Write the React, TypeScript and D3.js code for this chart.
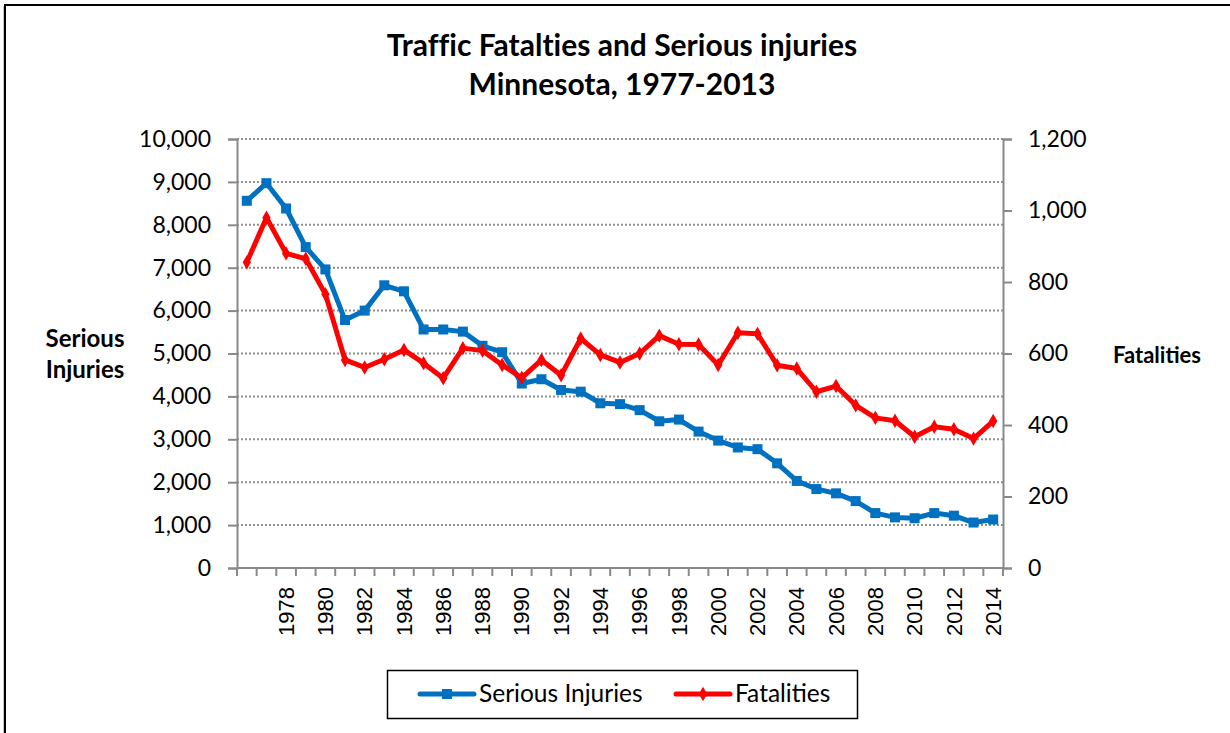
import React, { useEffect, useRef } from "react";
import * as d3 from "d3";

// categories: 1976 .. 2014 (first category carries no label in the original)
const years: number[] = [
  1976, 1977, 1978, 1979, 1980, 1981, 1982, 1983, 1984, 1985,
  1986, 1987, 1988, 1989, 1990, 1991, 1992, 1993, 1994, 1995,
  1996, 1997, 1998, 1999, 2000, 2001, 2002, 2003, 2004, 2005,
  2006, 2007, 2008, 2009, 2010, 2011, 2012, 2013, 2014,
];
const xTickLabels: string[] = [
  "1978", "1980", "1982", "1984", "1986", "1988", "1990", "1992", "1994",
  "1996", "1998", "2000", "2002", "2004", "2006", "2008", "2010", "2012", "2014",
];

const seriousInjuries: number[] = [
  8560, 8970, 8380, 7480, 6960, 5780, 6000, 6590, 6450, 5560,
  5560, 5510, 5180, 5030, 4300, 4400, 4150, 4110, 3840, 3820,
  3680, 3420, 3460, 3180, 2970, 2810, 2770, 2440, 2030, 1840,
  1740, 1560, 1280, 1180, 1160, 1280, 1220, 1060, 1130,
];
const fatalities: number[] = [
  855, 980, 880, 865, 766, 582, 561, 584, 610, 573,
  531, 615, 608, 568, 532, 582, 539, 642, 596, 575,
  600, 650, 626, 625, 568, 658, 655, 567, 558, 493,
  509, 455, 420, 412, 367, 395, 388, 362, 411,
];

const leftTicks: number[] = [0, 1000, 2000, 3000, 4000, 5000, 6000, 7000, 8000, 9000, 10000];
const rightTicks: number[] = [0, 200, 400, 600, 800, 1000, 1200];

const BLUE = "#0070C0";
const RED = "#FF0000";
const AXIS = "#898989";
const SANS = "Lato, 'Open Sans', sans-serif";

function Chart() {
  const ref = useRef<SVGSVGElement>(null);

  useEffect(() => {
    const svg: any = d3.select(ref.current);
    svg.selectAll("*").remove();

    const left = 237, right = 1003, top = 139, bottom = 568;

    // outer chart frame, runs off the right and bottom edges
    svg.append("rect")
      .attr("x", 5).attr("y", 5)
      .attr("width", 1260).attr("height", 760)
      .attr("fill", "#fff").attr("stroke", "#000").attr("stroke-width", 2);
    svg.append("line")
      .attr("x1", 3.5).attr("x2", 3.5).attr("y1", 6).attr("y2", 733)
      .attr("stroke", "#c8c8c8").attr("stroke-width", 1);

    const x = d3.scaleBand<number>()
      .domain(years)
      .range([left, right])
      .padding(0);
    const yL = d3.scaleLinear().domain([0, 10000]).range([bottom, top]);
    const yR = d3.scaleLinear().domain([0, 1200]).range([bottom, top]);
    const cx = (d: number) => (x(d) as number) + x.bandwidth() / 2;

    // title
    const title = svg.append("g")
      .attr("font-family", SANS).attr("font-weight", "bold")
      .attr("font-size", 30).attr("text-anchor", "middle").attr("fill", "#000")
      .style("font-variant-ligatures", "none");
    title.append("text").attr("x", 622).attr("y", 56).text("Traffic Fatalties and Serious injuries");
    title.append("text").attr("x", 622).attr("y", 95).text("Minnesota, 1977-2013");

    // gridlines (left axis)
    svg.append("g")
      .selectAll("line")
      .data(leftTicks.filter((t) => t > 0))
      .enter()
      .append("line")
      .attr("x1", left).attr("x2", right)
      .attr("y1", (t: number) => yL(t)).attr("y2", (t: number) => yL(t))
      .attr("stroke", "#8f8f8f").attr("stroke-width", 2)
      .attr("stroke-dasharray", "2,2");

    // left axis
    const gL = svg.append("g").attr("transform", `translate(${left},0)`)
      .call(d3.axisLeft(yL).tickValues(leftTicks).tickSize(9).tickPadding(17)
        .tickFormat((d: any) => d3.format(",")(d)));
    gL.select(".domain").attr("stroke", AXIS).attr("stroke-width", 2);
    gL.selectAll(".tick line").attr("stroke", AXIS).attr("stroke-width", 2);
    gL.selectAll(".tick text").attr("font-family", SANS).attr("font-size", 23).attr("fill", "#000");

    // right axis
    const gR = svg.append("g").attr("transform", `translate(${right},0)`)
      .call(d3.axisRight(yR).tickValues(rightTicks).tickSize(9).tickPadding(16)
        .tickFormat((d: any) => d3.format(",")(d)));
    gR.select(".domain").attr("stroke", AXIS).attr("stroke-width", 2);
    gR.selectAll(".tick line").attr("stroke", AXIS).attr("stroke-width", 2);
    gR.selectAll(".tick text").attr("font-family", SANS).attr("font-size", 23).attr("fill", "#000");

    // bottom axis: tick marks at category boundaries
    const gX = svg.append("g");
    gX.append("line")
      .attr("x1", left).attr("x2", right).attr("y1", bottom).attr("y2", bottom)
      .attr("stroke", AXIS).attr("stroke-width", 2);
    gX.selectAll("line.tk")
      .data(years.concat([years[years.length - 1] + 1]))
      .enter()
      .append("line")
      .attr("class", "tk")
      .attr("x1", (d: number, i: number) => left + i * x.bandwidth())
      .attr("x2", (d: number, i: number) => left + i * x.bandwidth())
      .attr("y1", bottom).attr("y2", bottom + 8)
      .attr("stroke", AXIS).attr("stroke-width", 2);
    gX.selectAll("text")
      .data(xTickLabels)
      .enter()
      .append("text")
      .attr("transform", (d: string) => `translate(${cx(+d)},${bottom + 19}) rotate(-90)`)
      .attr("text-anchor", "end")
      .attr("dy", "0.35em")
      .attr("font-family", "'Liberation Sans', Arial, sans-serif")
      .attr("font-size", 22)
      .attr("fill", "#000")
      .text((d: string) => d);

    // axis titles
    const at = svg.append("g")
      .attr("font-family", SANS).attr("font-weight", "bold")
      .attr("fill", "#000").attr("text-anchor", "middle");
    at.append("text").attr("x", 85).attr("y", 347).attr("font-size", 24).text("Serious");
    at.append("text").attr("x", 85).attr("y", 378).attr("font-size", 24).text("Injuries");
    at.append("text").attr("x", 1157).attr("y", 363).attr("font-size", 22).text("Fatalities");

    // serious injuries line
    const lineL = d3.line<number>()
      .x((d, i) => cx(years[i]))
      .y((d) => yL(d));
    svg.append("path")
      .datum(seriousInjuries)
      .attr("d", lineL)
      .attr("fill", "none").attr("stroke", BLUE).attr("stroke-width", 5)
      .attr("stroke-linejoin", "round").attr("stroke-linecap", "round");
    svg.append("g")
      .selectAll("rect")
      .data(seriousInjuries)
      .enter()
      .append("rect")
      .attr("x", (d: number, i: number) => cx(years[i]) - 5)
      .attr("y", (d: number) => yL(d) - 5)
      .attr("width", 10).attr("height", 10)
      .attr("fill", BLUE);

    // fatalities line (secondary axis)
    const lineR = d3.line<number>()
      .x((d, i) => cx(years[i]))
      .y((d) => yR(d));
    svg.append("path")
      .datum(fatalities)
      .attr("d", lineR)
      .attr("fill", "none").attr("stroke", RED).attr("stroke-width", 5)
      .attr("stroke-linejoin", "round").attr("stroke-linecap", "round");
    svg.append("g")
      .selectAll("path")
      .data(fatalities)
      .enter()
      .append("path")
      .attr("d", d3.symbol().type(d3.symbolDiamond).size(60))
      .attr("transform", (d: number, i: number) => `translate(${cx(years[i])},${yR(d)})`)
      .attr("fill", RED);

    // legend
    const lg = svg.append("g");
    lg.append("rect")
      .attr("x", 387.5).attr("y", 670.5).attr("width", 470).attr("height", 48)
      .attr("fill", "#fff").attr("stroke", "#000").attr("stroke-width", 1.5);
    const items = [
      { name: "Serious Injuries", color: BLUE, x: 420, square: true },
      { name: "Fatalities", color: RED, x: 676, square: false },
    ];
    items.forEach((it) => {
      lg.append("line")
        .attr("x1", it.x).attr("x2", it.x + 54).attr("y1", 694).attr("y2", 694)
        .attr("stroke", it.color).attr("stroke-width", 5).attr("stroke-linecap", "round");
      if (it.square) {
        lg.append("rect").attr("x", it.x + 22).attr("y", 689).attr("width", 10).attr("height", 10)
          .attr("fill", it.color);
      } else {
        lg.append("path")
          .attr("d", d3.symbol().type(d3.symbolDiamond).size(60))
          .attr("transform", `translate(${it.x + 27},694)`)
          .attr("fill", it.color);
      }
      lg.append("text")
        .attr("x", it.x + 59).attr("y", 702)
        .attr("font-family", SANS).attr("font-size", 24.5).attr("fill", "#000")
        .text(it.name);
    });
  }, []);

  return <svg ref={ref} width={1230} height={733}></svg>;
}

export default function App() {
  return (
    <div style={{ position: "absolute", left: 0, top: 0, width: 1230, height: 733, overflow: "hidden", background: "#fff" }}>
      <Chart />
    </div>
  );
}
